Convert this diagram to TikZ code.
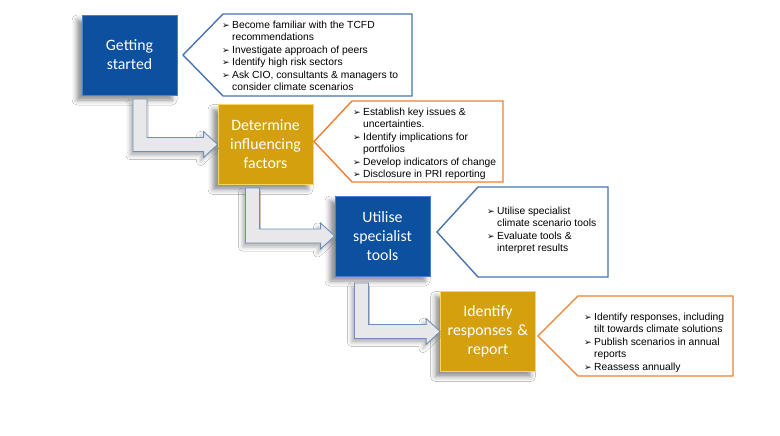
\documentclass[tikz,border=0pt]{standalone}
\usepackage{fontspec}
\setmainfont{Liberation Sans}
\newfontfamily\boxfont{Carlito}
\newfontfamily\callfont{Liberation Sans}
\newfontfamily\symfont{DejaVu Sans}
\usetikzlibrary{shadows.blur,calc}
\definecolor{stepblue}{RGB}{12,80,160}
\definecolor{stepblueedge}{RGB}{70,130,210}
\definecolor{stepgold}{RGB}{212,160,14}
\definecolor{stepgoldedge}{RGB}{248,212,96}
\definecolor{callblue}{RGB}{72,118,172}
\definecolor{callorange}{RGB}{240,126,48}
\definecolor{arrowgray}{RGB}{232,232,234}
\definecolor{arrowedge}{RGB}{112,142,182}
\newcommand\bul{\makebox[10pt][l]{\raisebox{0pt}{\symfont\fontsize{9}{9}\selectfont ➢}}}
\newcommand\cont{\hspace*{10pt}}
\tikzset{
  stepbox/.style={minimum width=95pt, minimum height=80pt, inner sep=0pt,
    text width=92pt, align=center, text=white,
    font=\boxfont\fontsize{15.8}{19}\selectfont, line width=0.8pt,
    blur shadow={shadow xshift=-5pt, shadow yshift=-5pt, shadow blur radius=5pt, shadow opacity=45}},
  bluebox/.style={stepbox, fill=stepblue, draw=stepblueedge},
  goldbox/.style={stepbox, fill=stepgold, draw=stepgoldedge},
  calltext/.style={anchor=base west, inner sep=0pt, font=\callfont\fontsize{10.3}{12.4}\selectfont},
  callshape/.style={fill=white, line width=1.4pt, line join=miter},
  elbowarrow/.style={fill=arrowgray, draw=arrowedge, line width=0.9pt, line join=miter,
    blur shadow={shadow xshift=-3pt, shadow yshift=-4pt, shadow blur radius=4pt, shadow opacity=30}}
}
% #1 start coordinate of stem, #2 target anchor
\newcommand\elbow[2]{%
  \path[elbowarrow] let \p1=(#1), \p2=(#2) in
    (\x1-7pt,\y1) -- (\x1+7pt,\y1) -- (\x1+7pt,\y2+7pt) -- (\x2-14pt,\y2+7pt)
    -- (\x2-14pt,\y2+13pt) -- (\x2,\y2) -- (\x2-14pt,\y2-13pt) -- (\x2-14pt,\y2-7pt)
    -- (\x1-7pt,\y2-7pt) -- cycle;}
% #1 tip x, #2 corner x, #3 right x, #4 top y, #5 bottom y, #6 colour
\newcommand\callout[6]{%
  \draw[callshape, draw=#6] (#1,{(#4+#5)/2}) -- (#2,#4) -- (#3,#4) -- (#3,#5) -- (#2,#5) -- cycle;}
\begin{document}
\begin{tikzpicture}[x=1pt,y=-1pt]
\useasboundingbox (0,0) rectangle (780,436);
\fill[white] (0,0) rectangle (780,436);

% step boxes
\node[bluebox] (g1) at (129.5,55) {Getting\\started};
\node[goldbox] (g2) at (265.5,144.5) {Determine\\influencing\\factors};
\node[bluebox] (g3) at (382.5,236) {Utilise\\specialist\\tools};
\node[goldbox] (g4) at (488,331.5) {Identify\\responses \&\\report};

% elbow arrows
\coordinate (s1) at (140,99);
\coordinate (s2) at (252.5,188);
\coordinate (s3) at (361.5,283);
\elbow{s1}{g2.west}
\elbow{s2}{g3.west}
\elbow{s3}{g4.west}

% callouts
\callout{183}{223}{412}{14}{96}{callblue}
\callout{314}{352}{503}{101}{182}{callorange}
\callout{437}{478}{608}{187}{277}{callblue}
\callout{538}{578}{733}{296}{376}{callorange}

\node[calltext] (c1) at (222,28.5) {\begin{tabular}[t]{@{}l@{}}
\bul Become familiar with the TCFD\\
\cont recommendations\\
\bul Investigate approach of peers\\
\bul Identify high risk sectors\\
\bul Ask CIO, consultants \& managers to\\
\cont consider climate scenarios
\end{tabular}};

\node[calltext] (c2) at (353,115.5) {\begin{tabular}[t]{@{}l@{}}
\bul Establish key issues \&\\
\cont uncertainties.\\
\bul Identify implications for\\
\cont portfolios\\
\bul Develop indicators of change\\
\bul Disclosure in PRI reporting
\end{tabular}};

\node[calltext] (c3) at (487,214.5) {\begin{tabular}[t]{@{}l@{}}
\bul Utilise specialist\\
\cont climate scenario tools\\
\bul Evaluate tools \&\\
\cont interpret results
\end{tabular}};

\node[calltext] (c4) at (584,320.5) {\begin{tabular}[t]{@{}l@{}}
\bul Identify responses, including\\
\cont tilt towards climate solutions\\
\bul Publish scenarios in annual\\
\cont reports\\
\bul Reassess annually
\end{tabular}};
\end{tikzpicture}
\end{document}
